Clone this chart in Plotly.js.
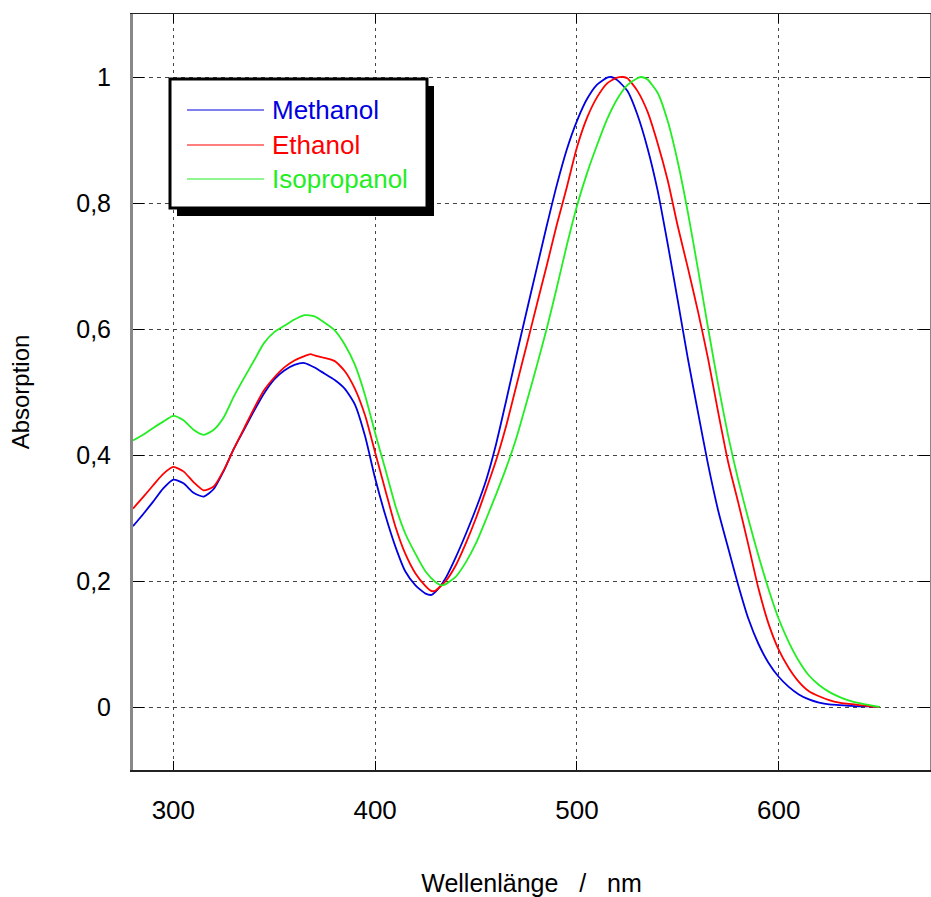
<!DOCTYPE html>
<html>
<head>
<meta charset="utf-8">
<script src="https://cdn.plot.ly/plotly-3.0.1.min.js"></script>
<style>body{margin:0;background:#fff}#chart{width:931px;height:897px}</style>
</head>
<body>
<div id="chart"></div>
<script>
// Wavelengths (nm) and absorption values
const wlMethanol = [280,285,290,295,300,305,310,315,320,325,330,335,340,345,350,355,360,365,370,375,380,385,390,395,400,405,410,415,420,425,428,430,435,440,445,450,455,460,465,470,475,480,485,490,495,500,505,510,515,517,520,525,530,535,540,545,550,555,560,565,570,575,580,585,590,595,600,605,610,615,620,625,630,635,640,645,650];
const absMethanol = [0.287,0.306,0.326,0.347,0.361,0.355,0.340,0.334,0.346,0.375,0.410,0.440,0.470,0.498,0.520,0.534,0.543,0.546,0.539,0.529,0.519,0.505,0.480,0.430,0.363,0.305,0.255,0.215,0.193,0.180,0.178,0.183,0.205,0.238,0.275,0.315,0.360,0.418,0.487,0.558,0.627,0.695,0.763,0.828,0.885,0.930,0.965,0.988,0.999,1.000,0.995,0.978,0.940,0.887,0.820,0.735,0.645,0.553,0.468,0.385,0.312,0.252,0.193,0.140,0.100,0.070,0.048,0.032,0.020,0.012,0.007,0.004,0.003,0.002,0.001,0.001,0.000];

const wlEthanol = [280,285,290,295,300,305,310,315,320,325,330,335,340,345,350,355,360,365,368,370,375,380,385,390,395,400,405,410,415,420,425,428,430,435,440,445,450,455,460,465,470,475,480,485,490,495,500,505,510,515,520,523,525,530,535,540,545,550,555,560,565,570,575,580,585,590,595,600,605,610,615,620,625,630,635,640,645,650];
const absEthanol = [0.315,0.333,0.352,0.370,0.381,0.374,0.357,0.344,0.350,0.376,0.410,0.442,0.474,0.503,0.523,0.539,0.550,0.557,0.560,0.558,0.554,0.549,0.533,0.505,0.463,0.404,0.345,0.287,0.243,0.212,0.192,0.184,0.185,0.200,0.225,0.260,0.300,0.345,0.392,0.447,0.510,0.573,0.637,0.700,0.765,0.825,0.888,0.935,0.968,0.990,0.999,1.000,0.998,0.978,0.945,0.895,0.836,0.763,0.697,0.628,0.553,0.468,0.388,0.324,0.257,0.188,0.132,0.091,0.062,0.040,0.025,0.017,0.011,0.007,0.005,0.003,0.001,0.000];

const wlIsopropanol = [280,285,290,295,300,305,310,315,320,325,330,335,340,345,350,355,360,365,370,375,380,385,390,395,400,405,410,415,420,425,430,433,435,440,445,450,455,460,465,470,475,480,485,490,495,500,505,510,515,520,525,530,532,535,540,545,550,555,560,565,570,575,580,585,590,595,600,605,610,615,620,625,630,635,640,645,650];
const absIsopropanol = [0.423,0.432,0.443,0.453,0.462,0.455,0.440,0.432,0.440,0.460,0.493,0.522,0.550,0.578,0.595,0.605,0.615,0.622,0.620,0.610,0.598,0.575,0.543,0.495,0.435,0.378,0.320,0.275,0.243,0.215,0.198,0.193,0.195,0.207,0.230,0.260,0.298,0.338,0.380,0.427,0.483,0.540,0.600,0.665,0.733,0.795,0.847,0.892,0.933,0.965,0.987,0.998,1.000,0.996,0.975,0.930,0.865,0.785,0.695,0.602,0.512,0.430,0.360,0.298,0.240,0.187,0.140,0.103,0.073,0.050,0.035,0.024,0.016,0.010,0.006,0.003,0.000];

const seriesNames = ['Methanol','Ethanol','Isopropanol'];
const seriesColors = ['#0000e0','#ff0000','#22ee22'];
const xTitle = 'Wellenl\u00e4nge\u00a0\u00a0\u00a0/\u00a0\u00a0\u00a0nm';
const yTitle = 'Absorption';

const W = 931, H = 897;
const M = {l:133, r:1, t:14, b:127};
const pw = W - M.l - M.r, ph = H - M.t - M.b;
const px = x => (x - M.l) / pw;
const py = y => (H - M.b - y) / ph;

const xs = [wlMethanol, wlEthanol, wlIsopropanol];
const ys = [absMethanol, absEthanol, absIsopropanol];
const traces = xs.map((x,i) => ({
  x: x, y: ys[i], type:'scatter', mode:'lines', name: seriesNames[i],
  line:{color: seriesColors[i], width:1.8, shape:'spline', smoothing:0.6}, showlegend:false
}));

const fontFam = '"Liberation Sans", Arial, sans-serif';
const shapes = [
  // legend shadow
  {type:'rect', xref:'paper', yref:'paper', x0:px(177), x1:px(434), y0:py(216), y1:py(86), fillcolor:'#000', line:{width:0}, layer:'above'},
  // legend box
  {type:'rect', xref:'paper', yref:'paper', x0:px(170), x1:px(427), y0:py(208), y1:py(79), fillcolor:'#fff', line:{color:'#000', width:3}, layer:'above'}
];
const rowY = [110, 145, 179];
const annotations = [];
seriesNames.forEach((n,i) => {
  shapes.push({type:'line', xref:'paper', yref:'paper', x0:px(187), x1:px(264), y0:py(rowY[i]), y1:py(rowY[i]), line:{color:seriesColors[i], width:1.2}, layer:'above'});
  annotations.push({xref:'paper', yref:'paper', x:px(270), y:py(rowY[i]), xanchor:'left', yanchor:'middle', text:n, showarrow:false, font:{family:fontFam, size:26, color:seriesColors[i]}});
});

const layout = {
  width: W, height: H,
  margin: M,
  paper_bgcolor:'#fff', plot_bgcolor:'#fff',
  separators: ',.',
  font:{family:fontFam, size:24, color:'#000'},
  xaxis:{
    range:[280,675], tick0:0, dtick:100,
    ticks:'inside', ticklen:9, tickcolor:'#000', tickwidth:1,
    showline:true, linecolor:'#222', linewidth:1.5, mirror:'ticks',
    showgrid:true, gridcolor:'#444', gridwidth:1, griddash:'3px,4px',
    zeroline:false, ticklabelstandoff:16,
    tickfont:{size:26},
    title:{text:xTitle, font:{size:25}, standoff:52}
  },
  yaxis:{
    range:[-0.1,1.1], tick0:0, dtick:0.2,
    ticks:'inside', ticklen:11, tickcolor:'#000', tickwidth:1,
    showline:true, linecolor:'#888', linewidth:3, mirror:'ticks',
    showgrid:true, gridcolor:'#444', gridwidth:1, griddash:'4px,4px',
    zeroline:false, ticklabelstandoff:14,
    tickfont:{size:25},
    title:{text:yTitle, font:{size:24}, standoff:40}
  },
  shapes: shapes,
  annotations: annotations
};

Plotly.newPlot('chart', traces, layout, {displayModeBar:false, staticPlot:true});
</script>
</body>
</html>
